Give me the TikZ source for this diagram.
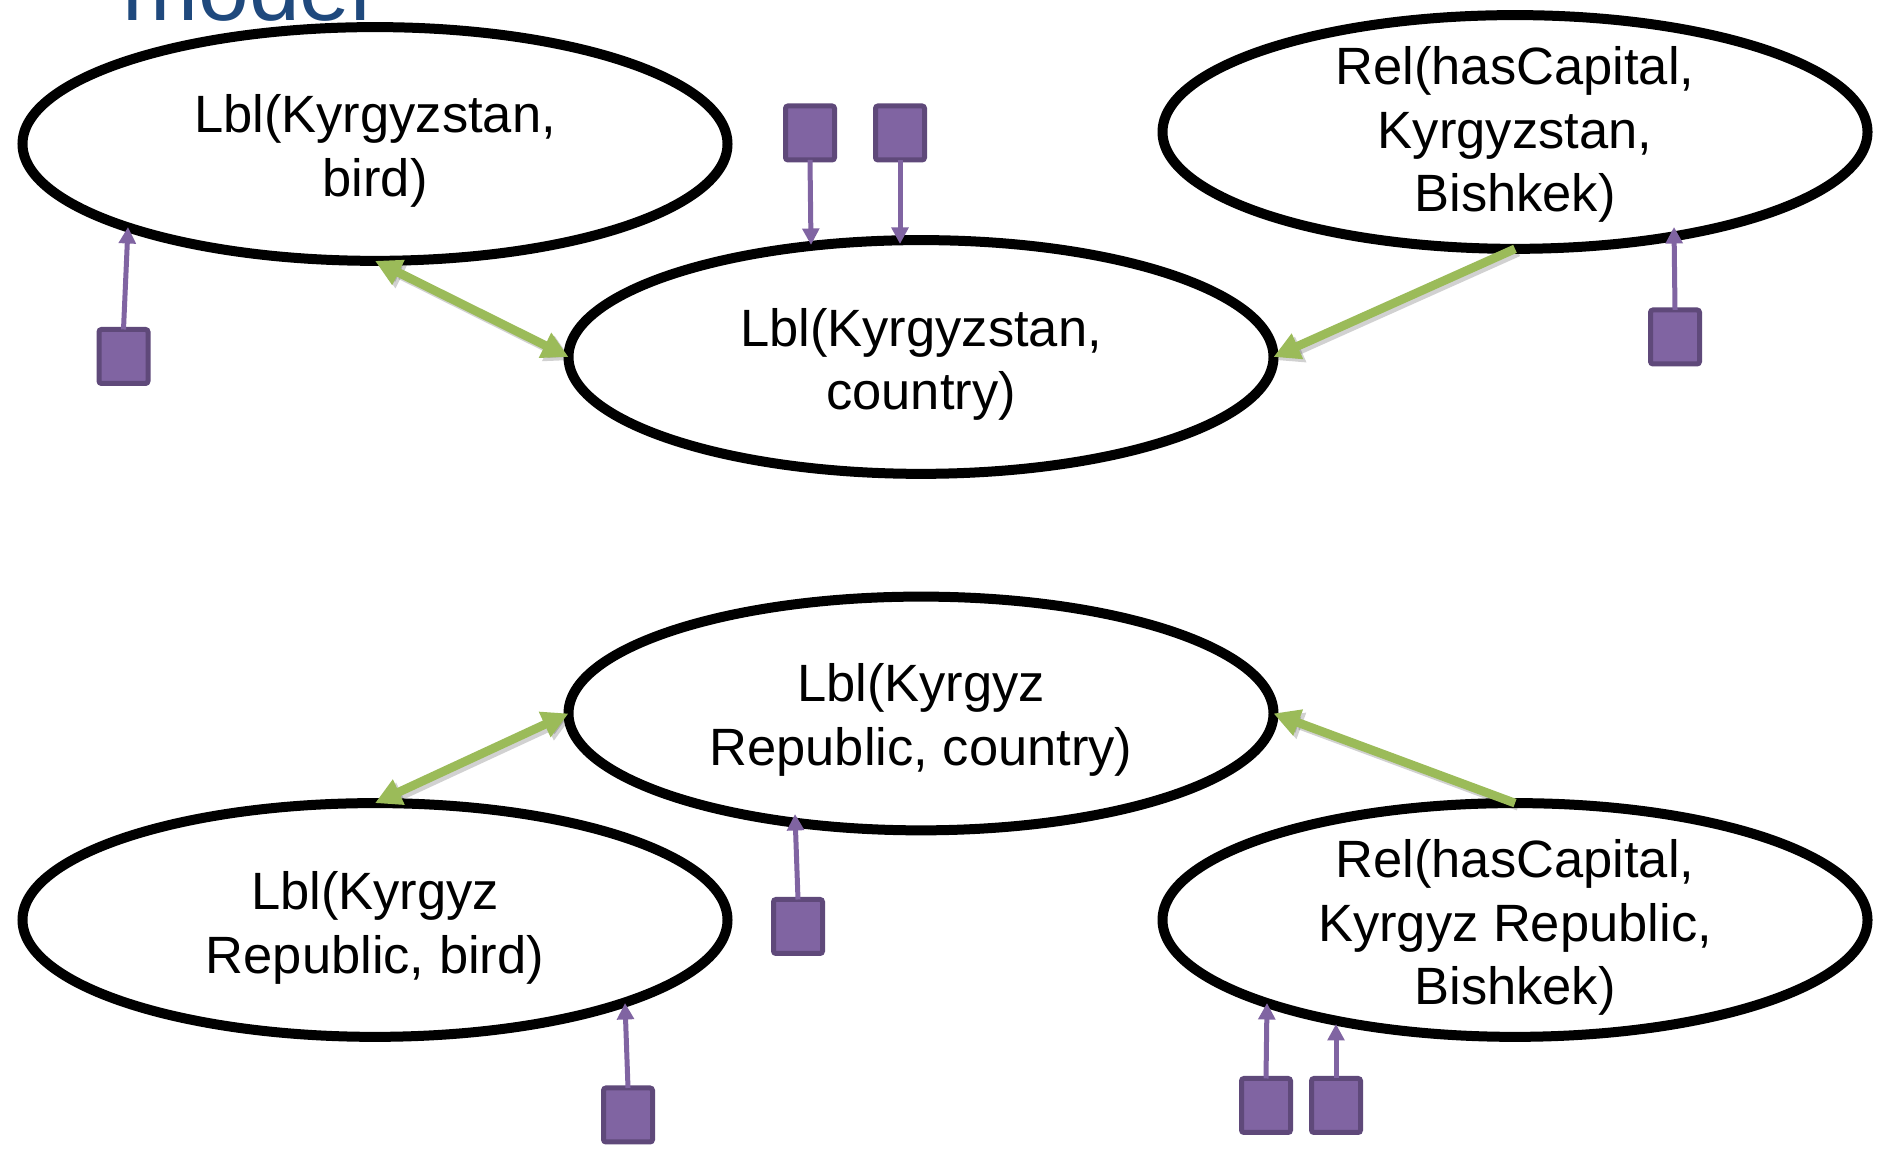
\documentclass[tikz,border=0pt]{standalone}
\usepackage{fontspec}
\setmainfont{Liberation Sans}
\usetikzlibrary{shapes.geometric,arrows.meta,calc}
\definecolor{titleblue}{RGB}{31,73,125}
\definecolor{leafgreen}{RGB}{155,187,89}
\definecolor{boxfill}{RGB}{128,100,162}
\definecolor{boxline}{RGB}{95,73,122}
% #1: how far the text sits below the ellipse centre
\newcommand\ovaltext[2]{\raisebox{0pt}[\dimexpr\height+#1*2\relax][\depth]{\begin{tabular}{@{}c@{}}#2\end{tabular}}}
\tikzset{
  oval/.style={ellipse, draw=black, line width=4pt, inner sep=-14pt, outer sep=0pt,
    minimum width=282pt, minimum height=93.5pt,
    font=\fontsize{21}{25.4}\selectfont},
  factor/.style={rectangle, draw=boxline, fill=boxfill, line width=2pt, rounded corners=1pt,
    minimum width=19.6pt, minimum height=21.6pt, inner sep=0pt, outer sep=0pt},
  pull/.style={draw=boxfill, line width=2pt, -{Triangle[length=6.6pt,width=6.6pt]}},
  link/.style={draw=leafgreen, line width=3.5pt},
  linkshadow/.style={draw=black, opacity=0.18, line width=3.5pt,
    transform canvas={xshift=1.3pt,yshift=-1.3pt}},
  gtip/.tip={Triangle[length=10.5pt,width=10.5pt]}
}
\begin{document}
\begin{tikzpicture}[x=0.4pt,y=0.4pt]
\useasboundingbox (0,0) rectangle (1880,1150);
\fill[white] (0,0) rectangle (1880,1150);
\node[anchor=base west, inner sep=0pt, text=titleblue, font=\fontsize{36.5}{36.5}\selectfont] (title) at (122,1129) {model};

\node[oval] (E1) at (375,1006) {\ovaltext{3.1pt}{Lbl(Kyrgyzstan,\\bird)}};
\node[oval] (E2) at (921,793) {\ovaltext{3.4pt}{Lbl(Kyrgyzstan,\\country)}};
\node[oval] (E3) at (1515,1018) {\ovaltext{1.4pt}{Rel(hasCapital,\\Kyrgyzstan,\\Bishkek)}};
\node[oval] (E4) at (921,436.5) {\ovaltext{2.9pt}{Lbl(Kyrgyz\\Republic, country)}};
\node[oval] (E5) at (375,230) {\ovaltext{3.6pt}{Lbl(Kyrgyz\\Republic, bird)}};
\node[oval] (E6) at (1515,230) {\ovaltext{3.4pt}{Rel(hasCapital,\\Kyrgyz Republic,\\Bishkek)}};

\node[factor] (S1) at (123.5,793.5) {};
\node[factor] (S2) at (810,1017) {};
\node[factor] (S3) at (900,1017) {};
\node[factor] (S4) at (1675,813) {};
\node[factor] (S5) at (798,223.5) {};
\node[factor] (S6) at (628,35) {};
\node[factor] (S7) at (1266,44.5) {};
\node[factor] (S8) at (1336,44.5) {};

\draw[pull] (S1.north) -- ($(E1.center)+(-247,-83)$);
\draw[pull] (S2.south) -- ($(E2.center)+(-110,112)$);
\draw[pull] (S3.south) -- ($(E2.center)+(-21,113)$);
\draw[pull] (S4.north) -- ($(E3.center)+(159,-95)$);
\draw[pull] (S5.north) -- ($(E4.center)+(-126,-100.5)$);
\draw[pull] (S6.north) -- ($(E5.center)+(250,-83)$);
\draw[pull] (S7.north) -- ($(E6.center)+(-248,-83)$);
\draw[pull] (S8.north) -- ($(E6.center)+(-179,-104)$);

\draw[linkshadow, {gtip}-{gtip}] (E1.south) -- (E2.west);
\draw[linkshadow, -{gtip}] (E3.south) -- (E2.east);
\draw[linkshadow, {gtip}-{gtip}] (E5.north) -- (E4.west);
\draw[linkshadow, -{gtip}] (E6.north) -- (E4.east);
\draw[link, {gtip}-{gtip}] (E1.south) -- (E2.west);
\draw[link, -{gtip}] (E3.south) -- (E2.east);
\draw[link, {gtip}-{gtip}] (E5.north) -- (E4.west);
\draw[link, -{gtip}] (E6.north) -- (E4.east);
\end{tikzpicture}
\end{document}
